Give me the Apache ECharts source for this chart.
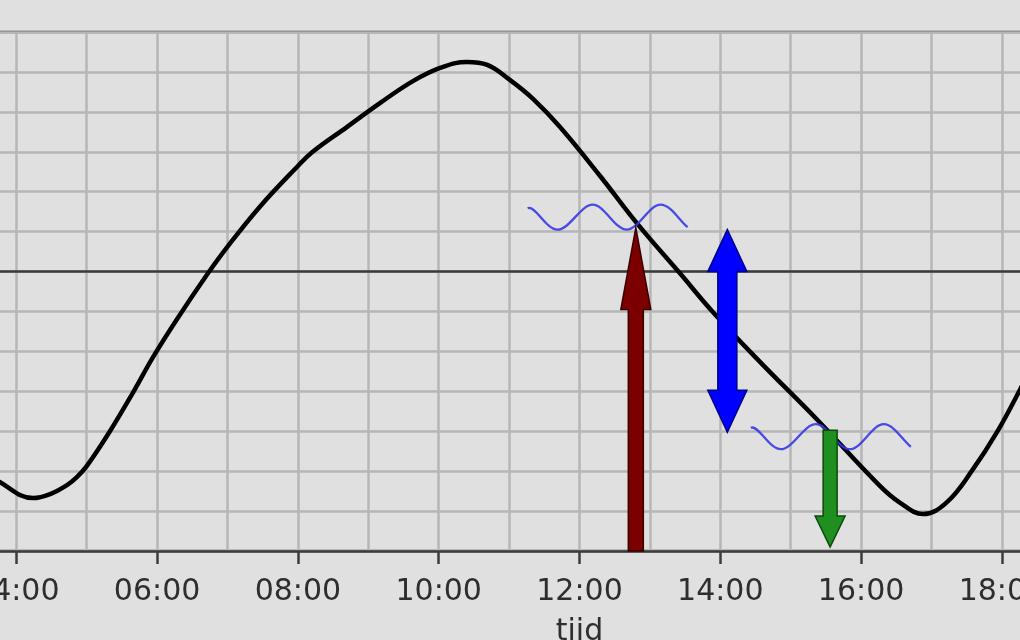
<!DOCTYPE html>
<html>
<head>
<meta charset="utf-8">
<script src="https://cdn.jsdelivr.net/npm/echarts@6/dist/echarts.min.js"></script>
<style>
  html, body { margin: 0; padding: 0; background: #e0e0e0; }
  #chart { width: 1020px; height: 640px; }
</style>
</head>
<body>
<div id="chart"></div>
<script>
// ---- data ----
// tide curve: time in hours, water level
const tideHours  = [3.5, 3.77, 4.24, 4.48, 4.72, 4.86, 5.00, 5.33, 5.66, 5.94, 6.28, 6.71, 6.99, 7.46, 7.99, 8.21, 8.70, 9.17, 9.64, 10.02, 10.40, 10.69, 11.01, 11.34, 11.72, 12.29, 12.82, 13.43, 13.90, 14.57, 15.37, 16.27, 16.56, 16.88, 17.22, 17.59, 17.93, 18.26, 18.5];
const tideLevels = [-98, -105.5, -113.5, -111.5, -107, -103, -97.5, -80, -60.5, -43, -24, -1.5, 12, 32.5, 52.5, 60, 72.5, 84.5, 95.5, 102, 105, 103.5, 96, 86.5, 72.5, 48, 24, -1, -20.5, -45.5, -74, -107.5, -116, -121.5, -115.5, -99, -80.5, -59, -42];

// arrows: time, start level, end (tip) level
const arrowTimes = [12.80, 14.10, 15.56];
const arrowFrom  = [-140, -80.5, -79.5];
const arrowTo    = [22, 21, -138];

// water surface marks: time, level
const waveTimes  = [12.40, 15.57];
const waveLevels = [27.25, -82.75];

// axis ticks
const xMin = 0, xMax = 24, xStep = 2;
const yMin = -140, yMax = 120, yStep = 20;
const axisName = 'tijd';

// ---- styles ----
const arrowStyles = [
  { fill: '#7d0000', stroke: '#3a0000', shaft: 15, headW: 30, headL: 82, both: false },
  { fill: '#0000ff', stroke: '#00008a', shaft: 19, headW: 39, headL: 42, both: true },
  { fill: '#1f8f1f', stroke: '#0c4a0c', shaft: 14, headW: 30, headL: 31, both: false }
];
const wavePath = 'M -80 -9 C -72 -12 -62 12.5 -50 12.5 C -38 12.5 -27 -12.5 -15 -12.5 C -3 -12.5 7 12.5 19 12.5 C 31 12.5 41 -12.5 53 -12.5 C 63 -12.5 72 4 80 10';

const tideData = tideHours.map((h, i) => [h, tideLevels[i]]);
const arrowData = arrowTimes.map((t, i) => [t, arrowFrom[i], arrowTo[i], i]);
const waveData = waveTimes.map((t, i) => [t, waveLevels[i]]);

const chart = echarts.init(document.getElementById('chart'), null, { renderer: 'canvas' });

function renderArrow(params, api) {
  const x0 = api.value(0), y0 = api.value(1), y1 = api.value(2);
  const st = arrowStyles[api.value(3)];
  const a = api.coord([x0, y0]);
  const b = api.coord([x0, y1]);
  const x = b[0];
  const s = st.shaft / 2, hw = st.headW / 2, hl = st.headL;
  const d = b[1] > a[1] ? 1 : -1; // direction of tip (down = 1)
  let pts;
  if (!st.both) {
    const hb = b[1] - d * hl;
    pts = [[x - s, a[1]], [x - s, hb], [x - hw, hb], [x, b[1]], [x + hw, hb], [x + s, hb], [x + s, a[1]]];
  } else {
    const hb1 = b[1] - d * hl;
    const hb0 = a[1] + d * hl;
    pts = [[x, a[1]], [x - hw, hb0], [x - s, hb0], [x - s, hb1], [x - hw, hb1], [x, b[1]],
           [x + hw, hb1], [x + s, hb1], [x + s, hb0], [x + hw, hb0]];
  }
  return {
    type: 'polygon',
    shape: { points: pts },
    style: { fill: st.fill, stroke: st.stroke, lineWidth: 1.5, lineJoin: 'miter' }
  };
}

function renderWave(params, api) {
  const p = api.coord([api.value(0), api.value(1)]);
  return {
    type: 'path',
    x: p[0], y: p[1],
    shape: { pathData: wavePath },
    style: { fill: null, stroke: '#3838e6', lineWidth: 2.3, opacity: 0.9 }
  };
}

const option = {
  backgroundColor: '#e0e0e0',
  animation: false,
  grid: {
    left: -265.3, right: -404.3, top: 32, bottom: 89,
    containLabel: false,
    outerBoundsMode: 'none',
    show: true,
    backgroundColor: '#e0e0e0',
    borderColor: '#3c3c3c',
    borderWidth: 2.5
  },
  xAxis: {
    type: 'value',
    min: xMin, max: xMax, interval: xStep,
    name: axisName,
    nameLocation: 'middle',
    nameGap: 66,
    nameTextStyle: { fontFamily: 'DejaVu Sans', fontSize: 30, color: '#2e2e2e' },
    axisLine: { show: true, onZero: false, lineStyle: { color: '#3c3c3c', width: 2.5 } },
    axisTick: { show: true, length: 13, lineStyle: { color: '#3c3c3c', width: 2.5 } },
    axisLabel: {
      fontFamily: 'DejaVu Sans', fontSize: 30, color: '#2e2e2e', margin: 26,
      showMinLabel: true, showMaxLabel: true, hideOverlap: false,
      formatter: v => String(v).padStart(2, '0') + ':00'
    },
    splitLine: { show: true, lineStyle: { color: '#b6b6b6', width: 2.5 } },
    minorTick: { show: false, splitNumber: 2 },
    minorSplitLine: { show: true, lineStyle: { color: '#b6b6b6', width: 2.5 } }
  },
  yAxis: {
    type: 'value',
    min: yMin, max: yMax, interval: yStep,
    axisLine: { show: false },
    axisTick: { show: false },
    axisLabel: { show: true, fontFamily: 'DejaVu Sans', fontSize: 30, color: '#2e2e2e' },
    splitLine: { show: true, lineStyle: { color: '#b6b6b6', width: 2.5 } }
  },
  series: [
    {
      name: 'waterstand',
      type: 'line',
      data: tideData,
      smooth: 0.4,
      showSymbol: false,
      symbol: 'none',
      z: 3,
      lineStyle: { color: '#000000', width: 4.5 },
      markLine: {
        silent: true,
        symbol: ['none', 'none'],
        label: { show: false },
        lineStyle: { color: '#3a3a3a', width: 2.5, type: 'solid' },
        data: [{ yAxis: 0 }],
        z: 2
      }
    },
    {
      name: 'golven',
      type: 'custom',
      renderItem: renderWave,
      data: waveData,
      z: 4,
      silent: true
    },
    {
      name: 'pijlen',
      type: 'custom',
      renderItem: renderArrow,
      data: arrowData,
      z: 5,
      silent: true
    }
  ]
};
chart.setOption(option);
</script>
</body>
</html>
